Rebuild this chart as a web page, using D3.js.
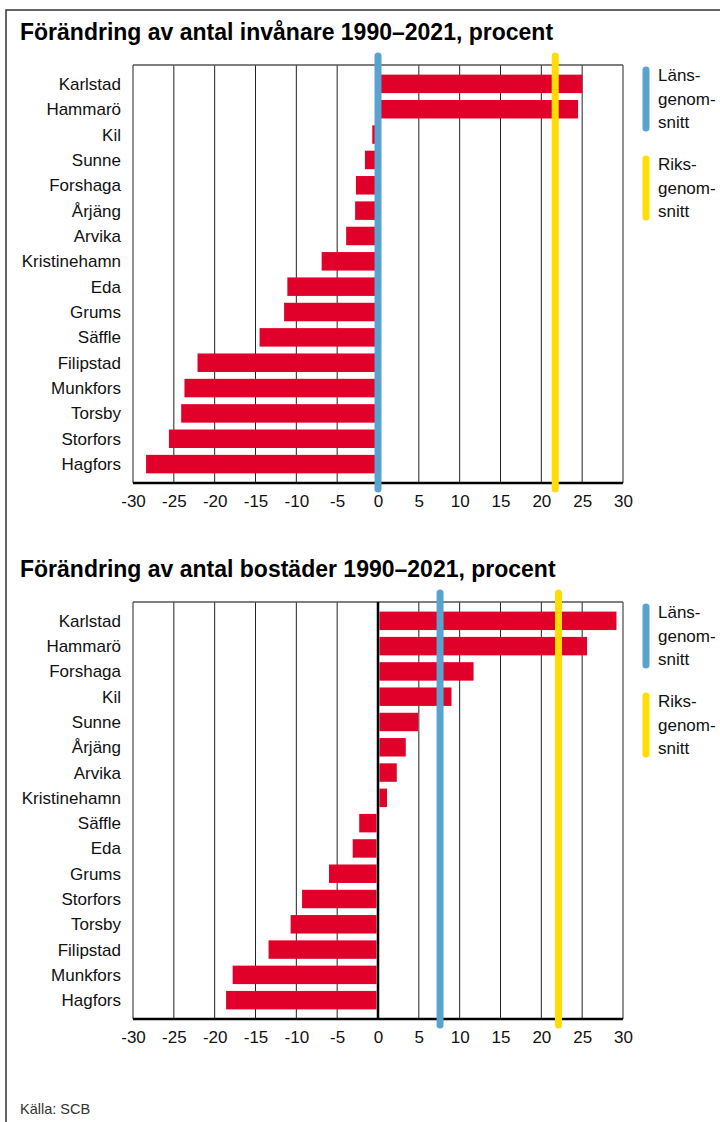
<!DOCTYPE html>
<html>
<head>
<meta charset="utf-8">
<script src="https://cdn.jsdelivr.net/npm/d3@7"></script>
<style>
	body { margin: 0; background: #fff; }
	svg { display: block; font-family: "Liberation Sans", Arial, sans-serif; }
	.c-bars__title { font-size: 23px; font-weight: bold; fill: #000; }
	.c-bars__label { font-size: 17px; fill: #111; }
	.c-bars__tick { font-size: 17px; fill: #111; }
	.c-bars__legend { font-size: 17px; fill: #111; }
	.c-bars__source { font-size: 14.5px; fill: #333; }
</style>
</head>
<body>
<svg id="chart" width="720" height="1122"></svg>
<script>
// Data
var invCategories = ["Karlstad", "Hammarö", "Kil", "Sunne", "Forshaga", "Årjäng", "Arvika", "Kristinehamn",
	"Eda", "Grums", "Säffle", "Filipstad", "Munkfors", "Torsby", "Storfors", "Hagfors"];
var invValues = [25.0, 24.5, -0.7, -1.6, -2.7, -2.8, -3.9, -6.9, -11.1, -11.5, -14.5, -22.1, -23.7, -24.1, -25.6, -28.4];
var invLans = 0.0;
var invRiks = 21.7;

var bosCategories = ["Karlstad", "Hammarö", "Forshaga", "Kil", "Sunne", "Årjäng", "Arvika", "Kristinehamn",
	"Säffle", "Eda", "Grums", "Storfors", "Torsby", "Filipstad", "Munkfors", "Hagfors"];
var bosValues = [29.2, 25.6, 11.7, 9.0, 4.9, 3.4, 2.3, 1.1, -2.3, -3.1, -6.0, -9.3, -10.7, -13.4, -17.8, -18.6];
var bosLans = 7.6;
var bosRiks = 22.1;

var xTicks = [-30, -25, -20, -15, -10, -5, 0, 5, 10, 15, 20, 25, 30];
var legendLabels = [["Läns-", "genom-", "snitt"], ["Riks-", "genom-", "snitt"]];

var colors = { bar: "#e1002a", lans: "#5ba3cf", riks: "#ffdd00", grid: "#222" };

var chart = {
	classPrefix: "c-bars",
	initiate: function(){
		var self = this;
		self.svg = d3.select("#chart");

		//Frame round the graphic
		self.svg.append("path")
			.attr("d", "M6,1122 L6,10 L720,10")
			.attr("fill", "none")
			.attr("stroke", "#333")
			.attr("stroke-width", 1.5);

		self.drawPanel({
			title: "Förändring av antal invånare 1990–2021, procent",
			titleY: 40,
			top: 65, bottom: 483,
			categories: invCategories, values: invValues,
			lans: invLans, riks: invRiks,
			legendTop: 67
		});

		self.drawPanel({
			title: "Förändring av antal bostäder 1990–2021, procent",
			titleY: 577,
			top: 602, bottom: 1019,
			categories: bosCategories, values: bosValues,
			lans: bosLans, riks: bosRiks,
			legendTop: 604
		});

		self.svg.append("text")
			.attr("class", self.classPrefix + "__source")
			.attr("x", 20)
			.attr("y", 1114)
			.text("Källa: SCB");
	},
	drawPanel: function(p){
		var self = this, left = 133, right = 623;

		var x = d3.scaleLinear().domain([-30, 30]).range([left, right]);
		var y = d3.scaleBand()
			.domain(p.categories)
			.range([p.top, p.bottom])
			.paddingInner(0.27)
			.paddingOuter(0.38);

		var g = self.svg.append("g");

		//Title
		g.append("text")
			.attr("class", self.classPrefix + "__title")
			.attr("x", 20)
			.attr("y", p.titleY)
			.text(p.title);

		//Grid lines
		g.selectAll(".grid")
			.data(xTicks)
			.enter().append("line")
			.attr("x1", function(d){ return x(d); })
			.attr("x2", function(d){ return x(d); })
			.attr("y1", p.top)
			.attr("y2", p.bottom)
			.attr("stroke", colors.grid)
			.attr("stroke-width", 1);

		//Top border
		g.append("line")
			.attr("x1", left).attr("x2", right)
			.attr("y1", p.top).attr("y2", p.top)
			.attr("stroke", "#555")
			.attr("stroke-width", 1.5);

		//Bars
		g.selectAll(".bar")
			.data(p.values)
			.enter().append("rect")
			.attr("x", function(d){ return d < 0 ? x(d) : x(0) + 1.5; })
			.attr("y", function(d, i){ return y(p.categories[i]); })
			.attr("width", function(d){ return Math.max(0, Math.abs(x(d) - x(0)) - 1.5); })
			.attr("height", y.bandwidth())
			.attr("fill", colors.bar);

		//Zero line
		g.append("line")
			.attr("x1", x(0)).attr("x2", x(0))
			.attr("y1", p.top).attr("y2", p.bottom)
			.attr("stroke", "#000")
			.attr("stroke-width", 2.5);

		//Bottom axis
		var axis = g.append("g")
			.attr("transform", "translate(0," + p.bottom + ")")
			.call(d3.axisBottom(x).tickValues(xTicks).tickSize(0).tickPadding(12)
				.tickFormat(function(d){ return d < 0 ? "-" + Math.abs(d) : d; }));
		axis.select(".domain")
			.attr("stroke", "#000")
			.attr("stroke-width", 2.5)
			.attr("d", "M" + left + ",0H" + right);
		axis.selectAll("text")
			.attr("class", self.classPrefix + "__tick")
			.attr("font-family", null)
			.attr("font-size", null)
			.attr("fill", null);

		//Category labels
		g.selectAll(".label")
			.data(p.categories)
			.enter().append("text")
			.attr("class", self.classPrefix + "__label")
			.attr("text-anchor", "end")
			.attr("x", 121)
			.attr("y", function(d){ return y(d) + y.bandwidth() / 2; })
			.attr("dy", "0.35em")
			.text(function(d){ return d; });

		//Average lines
		[[p.lans, colors.lans], [p.riks, colors.riks]].forEach(function(cur){
			g.append("line")
				.attr("x1", x(cur[0])).attr("x2", x(cur[0]))
				.attr("y1", p.top - 9).attr("y2", p.bottom + 6)
				.attr("stroke", cur[1])
				.attr("stroke-width", 7)
				.attr("stroke-linecap", "round");
		});

		//Legend
		[colors.lans, colors.riks].forEach(function(col, i){
			var top = p.legendTop + i * 89;
			g.append("line")
				.attr("x1", 646).attr("x2", 646)
				.attr("y1", top + 3).attr("y2", top + 61)
				.attr("stroke", col)
				.attr("stroke-width", 7)
				.attr("stroke-linecap", "round");

			g.append("text")
				.attr("class", self.classPrefix + "__legend")
				.attr("transform", "translate(658," + (top + 14) + ")")
				.html(function(){
					var str = "";
					legendLabels[i].forEach(function(t, j){
						str += "<tspan x='0' dy='" + (j ? 23.5 : 0) + "'>" + t + "</tspan>";
					});
					return str;
				});
		});
	}
};

chart.initiate();
</script>
</body>
</html>
